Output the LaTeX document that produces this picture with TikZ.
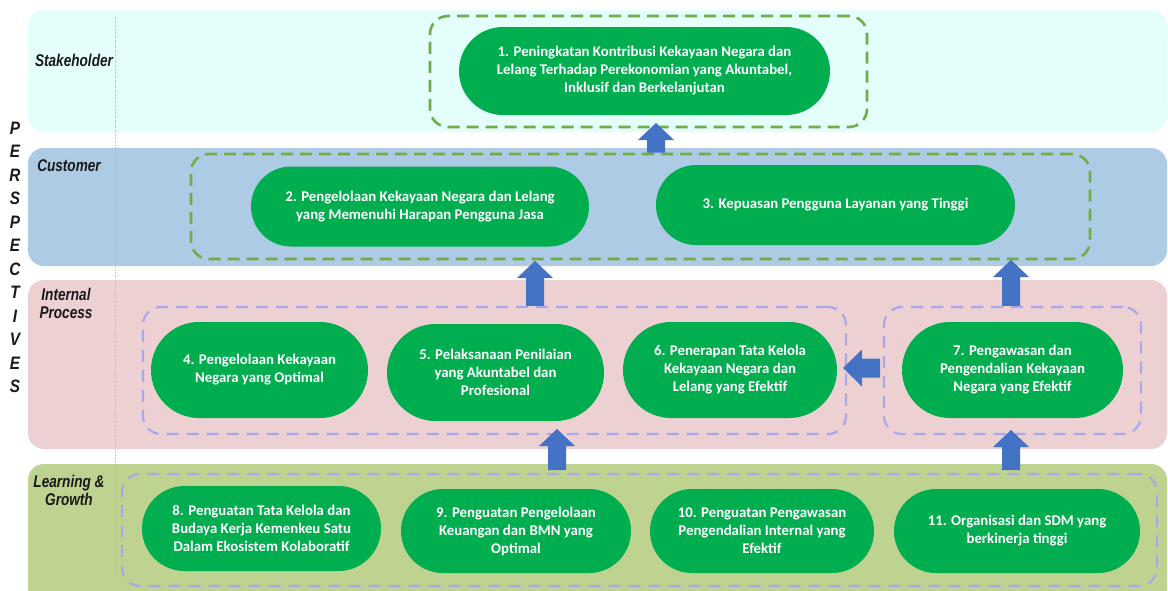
\documentclass[tikz,border=0pt]{standalone}
\usepackage{fontspec}
\setmainfont{Carlito}
\newfontfamily\labfont{Liberation Sans}
\usetikzlibrary{calc}
\definecolor{bandS}{HTML}{E4FEFC}
\definecolor{bandC}{HTML}{ADCBE4}
\definecolor{bandI}{HTML}{EDD0D1}
\definecolor{bandL}{HTML}{BED390}
\definecolor{objgreen}{HTML}{00AD4F}
\definecolor{dgreen}{HTML}{70AD47}
\definecolor{dblue}{HTML}{A8A8EA}
\definecolor{arrowc}{HTML}{4472C4}
\newcommand\blkup[2]{\fill[arrowc] ($(#2)+(-9,0)$) -- ($(#1)+(-9,17)$) -- ($(#1)+(-18,17)$) -- (#1) -- ($(#1)+(18,17)$) -- ($(#1)+(9,17)$) -- ($(#2)+(9,0)$) -- cycle;}
\begin{document}
\begin{tikzpicture}[x=1pt,y=-1pt,
  band/.style={rounded corners=16pt},
  lab/.style={font={\labfont\bfseries\itshape\fontsize{17}{20}\selectfont}, text=black!90, inner sep=0pt, align=center},
  obj/.style={fill=objgreen, text=white, inner sep=0pt, align=center, font={\bfseries\fontsize{14.8}{18}\selectfont}},
  ggrp/.style={draw=dgreen, line width=2.6pt, dash pattern=on 12pt off 7pt, rounded corners=18pt, inner sep=0pt},
  bgrp/.style={draw=dblue, line width=2.2pt, dash pattern=on 12pt off 8pt, rounded corners=18pt, inner sep=0pt}]
\clip (0,0) rectangle (1168,590);
\fill[white] (0,0) rectangle (1168,590);
% bands
\fill[bandS, band] (28,10) rectangle (1167,132);
\fill[bandC, band] (28,148) rectangle (1167,266);
\fill[bandI, band] (28,280) rectangle (1167,449);
\fill[bandL, band] (28,464) rectangle (1167,620);
\draw[black!30, line width=0.6pt, dash pattern=on 1pt off 1.5pt] (115,17) -- (115,578);
% perspective labels
\node[lab] (ls) at (74,60) {\scalebox{0.8}[1]{Stakeholder}};
\node[lab] (lc) at (69,166) {\scalebox{0.8}[1]{Customer}};
\node[lab] (li) at (66,303) {\scalebox{0.8}[1]{Internal}\\[-2pt]\scalebox{0.8}[1]{Process}};
\node[lab] (ll) at (69,490) {\scalebox{0.8}[1]{Learning \&}\\[-2pt]\scalebox{0.8}[1]{Growth}};
\foreach \ch [count=\i from 0] in {P,E,R,S,P,E,C,T,I,V,E,S}{
  \node[lab, font={\labfont\bfseries\itshape\fontsize{18}{20}\selectfont}] (pl\i) at (15,128+23.5*\i) {\scalebox{0.85}[1]{\ch}};
}
% groups
\node[ggrp, minimum width=437pt, minimum height=111pt] (g1) at (648.5,71.5) {};
\node[ggrp, minimum width=899pt, minimum height=105pt] (g2) at (640.5,206.5) {};
\node[bgrp, minimum width=703pt, minimum height=127pt] (g3) at (494.5,370.5) {};
\node[bgrp, minimum width=257pt, minimum height=127pt] (g4) at (1012.5,370.5) {};
\node[bgrp, minimum width=1035pt, minimum height=112pt] (g5) at (639.5,530) {};
% objectives
\node[obj, minimum width=371pt, minimum height=88pt, rounded corners=44pt] (n1) at (644.5,71) {1. Peningkatan Kontribusi Kekayaan Negara dan\\Lelang Terhadap Perekonomian yang Akuntabel,\\Inklusif dan Berkelanjutan};
\node[obj, minimum width=338pt, minimum height=80pt, rounded corners=40pt] (n2) at (420,206.5) {2. Pengelolaan Kekayaan Negara dan Lelang\\yang Memenuhi Harapan Pengguna Jasa};
\node[obj, minimum width=359pt, minimum height=80pt, rounded corners=40pt] (n3) at (835.5,205) {3. Kepuasan Pengguna Layanan yang Tinggi};
\node[obj, minimum width=217pt, minimum height=96pt, rounded corners=48pt] (n4) at (259.5,370) {4. Pengelolaan Kekayaan\\Negara yang Optimal};
\node[obj, minimum width=217pt, minimum height=97pt, rounded corners=48.5pt] (n5) at (495.5,372.5) {5. Pelaksanaan Penilaian\\yang Akuntabel dan\\Profesional};
\node[obj, minimum width=214pt, minimum height=96pt, rounded corners=48pt] (n6) at (730,370) {6. Penerapan Tata Kelola\\Kekayaan Negara dan\\Lelang yang Efektif};
\node[obj, minimum width=221pt, minimum height=96pt, rounded corners=48pt] (n7) at (1012.5,370) {7. Pengawasan dan\\Pengendalian Kekayaan\\Negara yang Efektif};
\node[obj, minimum width=239pt, minimum height=85pt, rounded corners=42.5pt] (n8) at (261.5,528.5) {8. Penguatan Tata Kelola dan\\Budaya Kerja Kemenkeu Satu\\Dalam Ekosistem Kolaboratif};
\node[obj, minimum width=230pt, minimum height=84pt, rounded corners=42pt] (n9) at (516,531) {9. Penguatan Pengelolaan\\Keuangan dan BMN yang\\Optimal};
\node[obj, minimum width=224pt, minimum height=84pt, rounded corners=42pt] (n10) at (762,531) {10. Penguatan Pengawasan\\Pengendalian Internal yang\\Efektif};
\node[obj, minimum width=246pt, minimum height=84pt, rounded corners=42pt] (n11) at (1017,531) {11. Organisasi dan SDM yang\\berkinerja tinggi};
% arrows
\coordinate (a1t) at (656,123); \coordinate (a1b) at (g2.north -| a1t);
\coordinate (a2t) at (535,261); \coordinate (a2b) at (g3.north -| a2t);
\coordinate (a3t) at (1011,260); \coordinate (a3b) at (g4.north -| a3t);
\coordinate (a5t) at (557,429); \coordinate (a5b) at (557,470);
\coordinate (a6t) at (1011,430); \coordinate (a6b) at (1011,470);
\blkup{a1t}{a1b}
\blkup{a2t}{a2b}
\blkup{a3t}{a3b}
\blkup{a5t}{a5b}
\blkup{a6t}{a6b}
\coordinate (a4t) at (843,368); \coordinate (a4b) at (880,368);
\fill[arrowc] ($(a4b)+(0,-9.5)$) -- ($(a4t)+(19,-9.5)$) -- ($(a4t)+(19,-18.5)$) -- (a4t) -- ($(a4t)+(19,18.5)$) -- ($(a4t)+(19,9.5)$) -- ($(a4b)+(0,9.5)$) -- cycle;
\end{tikzpicture}
\end{document}
